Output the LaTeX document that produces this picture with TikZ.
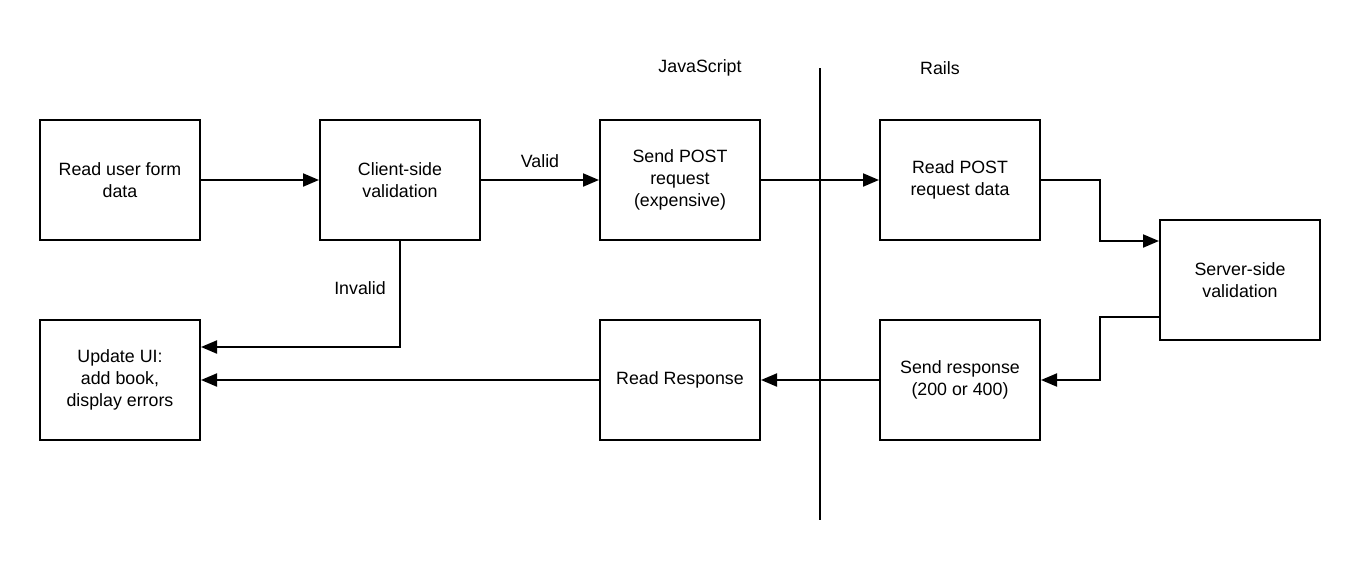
\documentclass[tikz,border=0pt]{standalone}
\usepackage{fontspec}
\setmainfont{Liberation Sans}
\usetikzlibrary{arrows.meta}
\begin{document}
\begin{tikzpicture}[x=1pt,y=-1pt,
  box/.style={draw,line width=2pt,minimum width=160pt,minimum height=120pt,inner sep=0pt,align=center,font=\fontsize{17.8pt}{22pt}\selectfont},
  conn/.style={line width=2pt,-{Triangle[length=16pt,width=13pt]}},
  lbl/.style={font=\fontsize{17.8pt}{22pt}\selectfont}]
\useasboundingbox (0,0) rectangle (1360,560);
\node[box] (b1) at (120,180) {Read user form\\data};
\node[box] (b2) at (400,180) {Client-side\\validation};
\node[box] (b3) at (680,180) {Send POST\\request\\(expensive)};
\node[box] (b4) at (960,180) {Read POST\\request data};
\node[box] (b5) at (1240,280) {Server-side\\validation};
\node[box] (b6) at (960,380) {Send response\\(200 or 400)};
\node[box] (b7) at (680,380) {Read Response};
\node[box] (b8) at (120,380) {Update UI:\\add book,\\display errors};
\coordinate (ltop) at (820,68);
\coordinate (lbot) at (820,520);
\draw[line width=2pt] (ltop) -- (lbot);
\node[lbl] (js) at (700,68) {JavaScript};
\node[lbl] (rails) at (940,68) {Rails};
\draw[conn] (b1) -- (b2);
\draw[conn] (b2) -- node[lbl,above=8pt] (valid) {Valid} (b3);
\draw[conn] (b3) -- (b4);
\draw[conn] (b4.east) -- (1100,180) -- (1100,241) -- (b5.west |- 0,241);
\draw[conn] (b5.west |- 0,317) -- (1100,317) -- (1100,380) -- (b6.east);
\draw[conn] (b6) -- (b7);
\draw[conn] (b7) -- (b8);
\draw[conn] (b2.south) -- (400,347) -- (b8.east |- 0,347);
\node[lbl] (invalid) at (360,288) {Invalid};
\end{tikzpicture}
\end{document}
